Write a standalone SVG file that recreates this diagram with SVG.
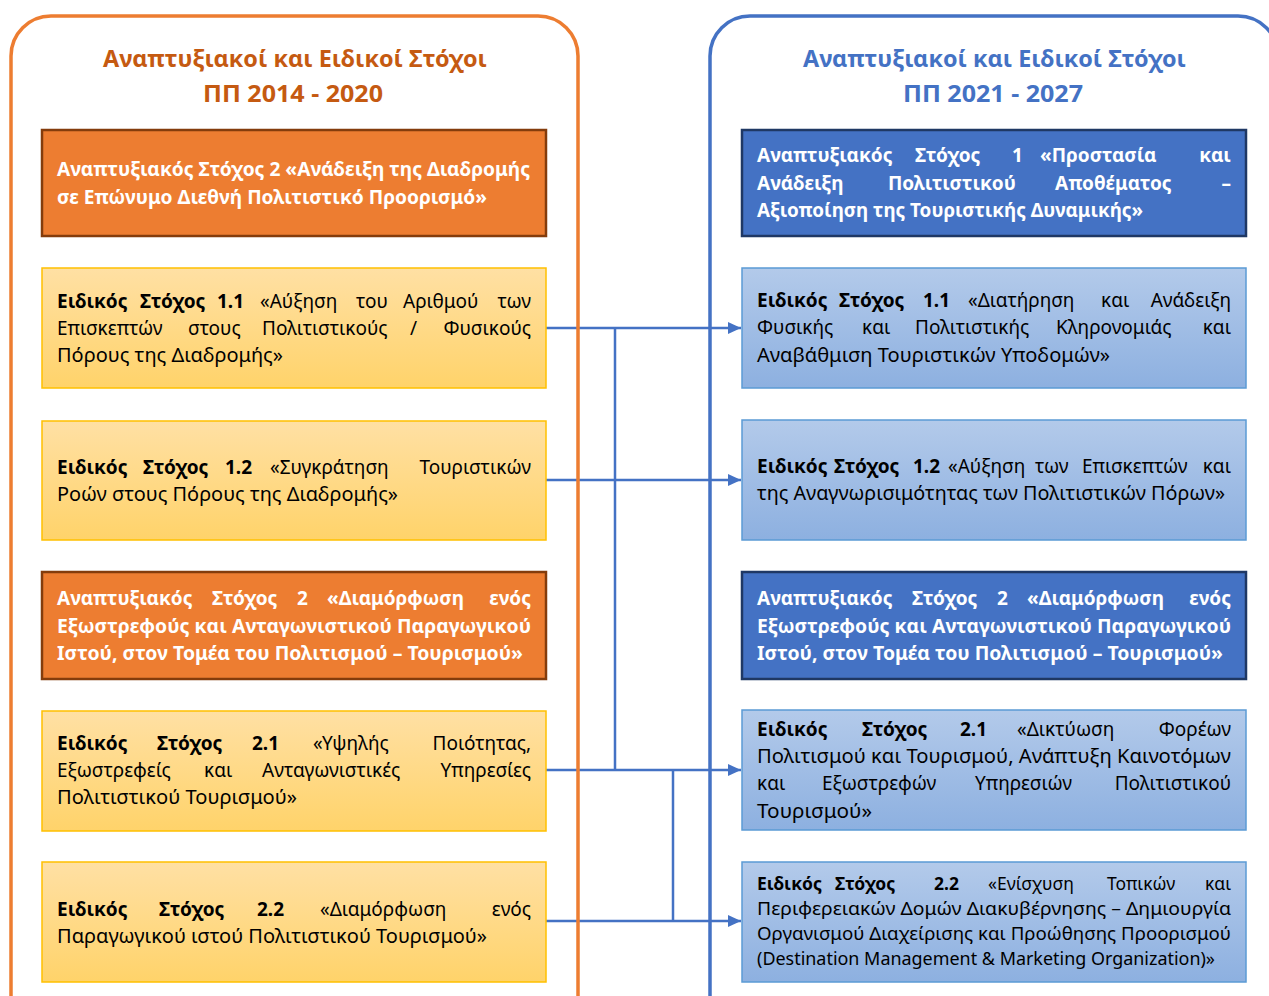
<svg xmlns="http://www.w3.org/2000/svg" width="1269" height="996" viewBox="0 0 1269 996">
<style>
.t{font-family:'Noto Sans','Open Sans','DejaVu Sans',sans-serif;font-size:19px;fill:#000}
.b{font-weight:700}
.w{fill:#fff;font-weight:700}
.s{font-size:17.5px}
.ttl{font-family:'Noto Sans','Open Sans','DejaVu Sans',sans-serif;font-size:24px;font-weight:700}
.frame{fill:none;stroke-width:3.5}
.org{fill:#ED7D31;stroke:#843C0C;stroke-width:2.5}
.yel{fill:url(#gy);stroke:#FFC000;stroke-width:1.5}
.dbl{fill:#4472C4;stroke:#1F3864;stroke-width:2.5}
.lbl{fill:url(#gb);stroke:#5B9BD5;stroke-width:1.5}
.con{fill:none;stroke:#4472C4;stroke-width:2.5}
</style>
<defs>
<linearGradient id="gy" x1="0" y1="0" x2="0" y2="1"><stop offset="0" stop-color="#FFE0A4"/><stop offset="1" stop-color="#FFD36A"/></linearGradient>
<linearGradient id="gb" x1="0" y1="0" x2="0" y2="1"><stop offset="0" stop-color="#B3CAEA"/><stop offset="1" stop-color="#8DB0E0"/></linearGradient>
<marker id="ah" markerUnits="userSpaceOnUse" markerWidth="13" markerHeight="12" refX="13" refY="6" orient="auto"><path d="M0,0 L13,6 L0,12 z" fill="#4472C4"/></marker>
</defs>
<rect width="1269" height="996" fill="#fff"/>

<g id="connectors">
<path class="con" d="M546,328 H741" marker-end="url(#ah)"/>
<path class="con" d="M615,328 V770"/>
<path class="con" d="M546,480 H741" marker-end="url(#ah)"/>
<path class="con" d="M546,770 H741" marker-end="url(#ah)"/>
<path class="con" d="M673,770 V921"/>
<path class="con" d="M546,921 H741" marker-end="url(#ah)"/>
</g>

<g id="frame-2014">
<rect class="frame" x="11" y="16" width="567" height="1100" rx="40" stroke="#ED7D31"/>
<text class="ttl" fill="#C55A11" x="103" y="67" textLength="384" lengthAdjust="spacingAndGlyphs">Αναπτυξιακοί και Ειδικοί Στόχοι</text>
<text class="ttl" fill="#C55A11" x="203" y="102" textLength="180" lengthAdjust="spacingAndGlyphs">ΠΠ 2014 - 2020</text>
</g>
<g id="frame-2021">
<rect class="frame" x="710" y="16" width="568" height="1100" rx="40" stroke="#4472C4"/>
<text class="ttl" fill="#4472C4" x="803" y="67" textLength="383" lengthAdjust="spacingAndGlyphs">Αναπτυξιακοί και Ειδικοί Στόχοι</text>
<text class="ttl" fill="#4472C4" x="903" y="102" textLength="180" lengthAdjust="spacingAndGlyphs">ΠΠ 2021 - 2027</text>
</g>

<g id="L-AS2">
<rect class="org" x="42" y="130" width="504" height="106"/>
<text class="t w" x="57" y="176" textLength="473" lengthAdjust="spacingAndGlyphs">Αναπτυξιακός Στόχος 2 «Ανάδειξη της Διαδρομής</text>
<text class="t w" x="57" y="204" textLength="430" lengthAdjust="spacingAndGlyphs">σε Επώνυμο Διεθνή Πολιτιστικό Προορισμό»</text>
</g>

<g id="L-ES11">
<rect class="yel" x="42" y="268" width="504" height="120"/>
<text class="t" y="308"><tspan class="b" x="57">Ειδικός</tspan><tspan class="b" x="140">Στόχος</tspan><tspan class="b" x="217">1.1</tspan><tspan x="260">«Αύξηση</tspan><tspan x="356">του</tspan><tspan x="403">Αριθμού</tspan></text>
<text class="t" x="531" y="308" text-anchor="end">των</text>
<text class="t" y="335"><tspan x="57">Επισκεπτών</tspan><tspan x="188">στους</tspan><tspan x="262">Πολιτιστικούς</tspan><tspan x="410">/</tspan></text>
<text class="t" x="531" y="335" text-anchor="end">Φυσικούς</text>
<text class="t" x="57" y="362" textLength="226" lengthAdjust="spacingAndGlyphs">Πόρους της Διαδρομής»</text>
</g>

<g id="L-ES12">
<rect class="yel" x="42" y="421" width="504" height="119"/>
<text class="t" y="474"><tspan class="b" x="57">Ειδικός</tspan><tspan class="b" x="143">Στόχος</tspan><tspan class="b" x="225">1.2</tspan><tspan x="270">«Συγκράτηση</tspan></text>
<text class="t" x="531" y="474" text-anchor="end">Τουριστικών</text>
<text class="t" x="57" y="501" textLength="341" lengthAdjust="spacingAndGlyphs">Ροών στους Πόρους της Διαδρομής»</text>
</g>

<g id="L-AS2b">
<rect class="org" x="42" y="572" width="504" height="107"/>
<text class="t w" y="605"><tspan x="57">Αναπτυξιακός</tspan><tspan x="212">Στόχος</tspan><tspan x="297">2</tspan><tspan x="327">«Διαμόρφωση</tspan></text>
<text class="t w" x="531" y="605" text-anchor="end">ενός</text>
<text class="t w" x="57" y="633" textLength="474" lengthAdjust="spacingAndGlyphs">Εξωστρεφούς και Ανταγωνιστικού Παραγωγικού</text>
<text class="t w" x="57" y="660" textLength="466" lengthAdjust="spacingAndGlyphs">Ιστού, στον Τομέα του Πολιτισμού – Τουρισμού»</text>
</g>

<g id="L-ES21">
<rect class="yel" x="42" y="711" width="504" height="120"/>
<text class="t" y="750"><tspan class="b" x="57">Ειδικός</tspan><tspan class="b" x="157">Στόχος</tspan><tspan class="b" x="252">2.1</tspan><tspan x="313">«Υψηλής</tspan></text>
<text class="t" x="531" y="750" text-anchor="end">Ποιότητας,</text>
<text class="t" y="777"><tspan x="57">Εξωστρεφείς</tspan><tspan x="204">και</tspan><tspan x="262">Ανταγωνιστικές</tspan></text>
<text class="t" x="531" y="777" text-anchor="end">Υπηρεσίες</text>
<text class="t" x="57" y="804" textLength="240" lengthAdjust="spacingAndGlyphs">Πολιτιστικού Τουρισμού»</text>
</g>

<g id="L-ES22">
<rect class="yel" x="42" y="862" width="504" height="120"/>
<text class="t" y="916"><tspan class="b" x="57">Ειδικός</tspan><tspan class="b" x="159">Στόχος</tspan><tspan class="b" x="257">2.2</tspan><tspan x="320">«Διαμόρφωση</tspan></text>
<text class="t" x="531" y="916" text-anchor="end">ενός</text>
<text class="t" x="57" y="943" textLength="430" lengthAdjust="spacingAndGlyphs">Παραγωγικού ιστού Πολιτιστικού Τουρισμού»</text>
</g>

<g id="R-AS1">
<rect class="dbl" x="742" y="130" width="504" height="106"/>
<text class="t w" y="162"><tspan x="757">Αναπτυξιακός</tspan><tspan x="915">Στόχος</tspan><tspan x="1012">1</tspan><tspan x="1040">«Προστασία</tspan></text>
<text class="t w" x="1231" y="162" text-anchor="end">και</text>
<text class="t w" y="190"><tspan x="757">Ανάδειξη</tspan><tspan x="888">Πολιτιστικού</tspan><tspan x="1055">Αποθέματος</tspan></text>
<text class="t w" x="1231" y="190" text-anchor="end">–</text>
<text class="t w" x="757" y="217" textLength="386" lengthAdjust="spacingAndGlyphs">Αξιοποίηση της Τουριστικής Δυναμικής»</text>
</g>

<g id="R-ES11">
<rect class="lbl" x="742" y="268" width="504" height="120"/>
<text class="t" y="307"><tspan class="b" x="757">Ειδικός</tspan><tspan class="b" x="839">Στόχος</tspan><tspan class="b" x="923">1.1</tspan><tspan x="968">«Διατήρηση</tspan><tspan x="1101">και</tspan></text>
<text class="t" x="1231" y="307" text-anchor="end">Ανάδειξη</text>
<text class="t" y="334"><tspan x="757">Φυσικής</tspan><tspan x="862">και</tspan><tspan x="915">Πολιτιστικής</tspan><tspan x="1056">Κληρονομιάς</tspan></text>
<text class="t" x="1231" y="334" text-anchor="end">και</text>
<text class="t" x="757" y="362" textLength="353" lengthAdjust="spacingAndGlyphs">Αναβάθμιση Τουριστικών Υποδομών»</text>
</g>

<g id="R-ES12">
<rect class="lbl" x="742" y="420" width="504" height="120"/>
<text class="t" y="473"><tspan class="b" x="757">Ειδικός</tspan><tspan class="b" x="834">Στόχος</tspan><tspan class="b" x="913">1.2</tspan><tspan x="948">«Αύξηση</tspan><tspan x="1035">των</tspan><tspan x="1082">Επισκεπτών</tspan></text>
<text class="t" x="1231" y="473" text-anchor="end">και</text>
<text class="t" x="757" y="500" textLength="468" lengthAdjust="spacingAndGlyphs">της Αναγνωρισιμότητας των Πολιτιστικών Πόρων»</text>
</g>

<g id="R-AS2">
<rect class="dbl" x="742" y="572" width="504" height="107"/>
<text class="t w" y="605"><tspan x="757">Αναπτυξιακός</tspan><tspan x="912">Στόχος</tspan><tspan x="997">2</tspan><tspan x="1027">«Διαμόρφωση</tspan></text>
<text class="t w" x="1231" y="605" text-anchor="end">ενός</text>
<text class="t w" x="757" y="633" textLength="474" lengthAdjust="spacingAndGlyphs">Εξωστρεφούς και Ανταγωνιστικού Παραγωγικού</text>
<text class="t w" x="757" y="660" textLength="466" lengthAdjust="spacingAndGlyphs">Ιστού, στον Τομέα του Πολιτισμού – Τουρισμού»</text>
</g>

<g id="R-ES21">
<rect class="lbl" x="742" y="710" width="504" height="120"/>
<text class="t" y="736"><tspan class="b" x="757">Ειδικός</tspan><tspan class="b" x="862">Στόχος</tspan><tspan class="b" x="960">2.1</tspan><tspan x="1017">«Δικτύωση</tspan></text>
<text class="t" x="1231" y="736" text-anchor="end">Φορέων</text>
<text class="t" x="757" y="763" textLength="474" lengthAdjust="spacingAndGlyphs">Πολιτισμού και Τουρισμού, Ανάπτυξη Καινοτόμων</text>
<text class="t" y="790"><tspan x="757">και</tspan><tspan x="822">Εξωστρεφών</tspan><tspan x="975">Υπηρεσιών</tspan></text>
<text class="t" x="1231" y="790" text-anchor="end">Πολιτιστικού</text>
<text class="t" x="757" y="818" textLength="115" lengthAdjust="spacingAndGlyphs">Τουρισμού»</text>
</g>

<g id="R-ES22">
<rect class="lbl" x="742" y="862" width="504" height="120"/>
<text class="t s" y="890"><tspan class="b" x="757">Ειδικός</tspan><tspan class="b" x="835">Στόχος</tspan><tspan class="b" x="934">2.2</tspan><tspan x="988">«Ενίσχυση</tspan><tspan x="1107">Τοπικών</tspan></text>
<text class="t s" x="1231" y="890" text-anchor="end">και</text>
<text class="t s" x="757" y="915" textLength="474" lengthAdjust="spacingAndGlyphs">Περιφερειακών Δομών Διακυβέρνησης – Δημιουργία</text>
<text class="t s" x="757" y="940" textLength="474" lengthAdjust="spacingAndGlyphs">Οργανισμού Διαχείρισης και Προώθησης Προορισμού</text>
<text class="t s" x="757" y="965" textLength="458" lengthAdjust="spacingAndGlyphs">(Destination Management &amp; Marketing Organization)»</text>
</g>
</svg>
